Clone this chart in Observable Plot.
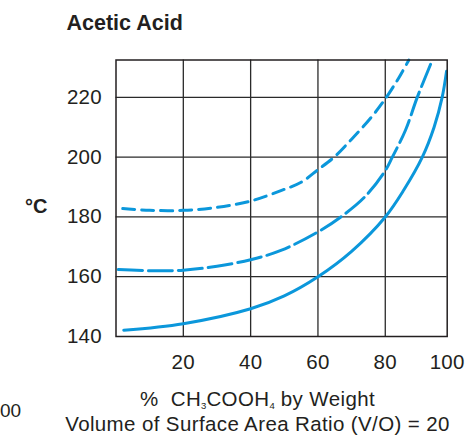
<!DOCTYPE html>
<html>
<head>
<meta charset="utf-8">
<script src="https://cdn.jsdelivr.net/npm/d3@7"></script>
<script src="https://cdn.jsdelivr.net/npm/@observablehq/plot@0.6"></script>
<style>
  html, body { margin: 0; padding: 0; background: #fff; }
  #wrap { position: relative; width: 465px; height: 436px; overflow: hidden;
          font-family: "Liberation Sans", Arial, Helvetica, sans-serif; color: #231f20; }
  #wrap svg { position: absolute; left: 0; top: 0; }
  .t { position: absolute; white-space: nowrap; line-height: 1; }
  .title { left: 66.5px; top: 12.8px; font-size: 21.5px; font-weight: bold; }
  .unit { left: 25px; top: 196.3px; font-size: 20px; font-weight: bold; }
  .xl { left: 257.5px; transform: translateX(-50%); font-size: 20.5px; letter-spacing: 0.38px; }
  .xl1 { top: 389.4px; }
  .xl2 { top: 414.4px; }
  .frag { left: 0px; top: 401px; font-size: 19px; }
  sub { font-size: 9.5px; vertical-align: -3px; line-height: 0; letter-spacing: 0; }
</style>
</head>
<body>
<div id="wrap">
  <div class="t title">Acetic Acid</div>
  <div class="t unit">°C</div>
  <div class="t xl xl1">%&nbsp; CH<sub>3</sub>COOH<sub>4</sub> by Weight</div>
  <div class="t xl xl2">Volume of Surface Area Ratio (V/O) = 20</div>
  <div class="t frag">00</div>
</div>
<script>
// Axis settings
const xMax = 98.4;                 // right edge of the frame (label "100" sits there)
const yMin = 140, yMax = 232.5;
const xGrid = [20, 40, 60, 80];
const yGrid = [160, 180, 200, 220];
const xTickValues = [20, 40, 60, 80, 98.4];
const xTickLabels = ["20", "40", "60", "80", "100"];
const yTicks = [140, 160, 180, 200, 220];

// Lower curve (solid)
const lowX = [2.3, 20, 40, 50, 60, 70, 80, 85.5, 91, 94.5, 96.9, 98.2];
const lowY = [142.1, 144.3, 149.3, 153.6, 160, 168.5, 180, 189, 200, 210, 220, 228.7];
// Middle curve (long dashes)
const midX = [0.7, 10, 20, 30, 40, 49, 60, 66.8, 74, 80, 82.1, 86, 89.5, 94];
const midY = [162.4, 162, 162.2, 163.5, 165.7, 168.8, 175, 180, 186.8, 195.5, 200, 209, 220, 232.5];
// Upper curve (short dashes)
const topX = [2, 10, 20, 30, 40, 49, 55, 60, 64.8, 70, 75.6, 80, 84, 87];
const topY = [182.8, 182.2, 182.2, 183.2, 185.3, 188.8, 191.6, 195.8, 200, 206, 213, 219.5, 226.5, 232.5];

const blue = "#0b97db";
const toRows = (xs, ys) => xs.map((x, i) => ({x, y: ys[i]}));

const chart = Plot.plot({
  width: 465,
  height: 436,
  marginLeft: 115.5,
  marginRight: 18.3,
  marginTop: 59.5,
  marginBottom: 100,
  x: {domain: [0, xMax]},
  y: {domain: [yMin, yMax]},
  style: {fontFamily: "'Liberation Sans', Arial, Helvetica, sans-serif", fontSize: "20.5px", color: "#231f20", background: "transparent", letterSpacing: "0.3px"},
  marks: [
    Plot.ruleX(xGrid, {stroke: "#2a2a2a", strokeWidth: 1.3}),
    Plot.ruleY(yGrid, {stroke: "#2a2a2a", strokeWidth: 1.3}),
    Plot.line(toRows(lowX, lowY), {x: "x", y: "y", curve: "catmull-rom", stroke: blue, strokeWidth: 3}),
    Plot.line(toRows(midX, midY), {x: "x", y: "y", curve: "catmull-rom", stroke: blue, strokeWidth: 3, strokeDasharray: "24,6"}),
    Plot.line(toRows(topX, topY), {x: "x", y: "y", curve: "catmull-rom", stroke: blue, strokeWidth: 3, strokeDasharray: "12,7"}),
    Plot.frame({stroke: "#231f20", strokeWidth: 1.5}),
    Plot.axisX({ticks: xTickValues, tickFormat: d => xTickLabels[xTickValues.indexOf(d)], tickSize: 0, tickPadding: 17.5, label: null}),
    Plot.axisY({ticks: yTicks, tickSize: 0, tickPadding: 14, label: null})
  ]
});
document.getElementById("wrap").prepend(chart);
</script>
</body>
</html>
